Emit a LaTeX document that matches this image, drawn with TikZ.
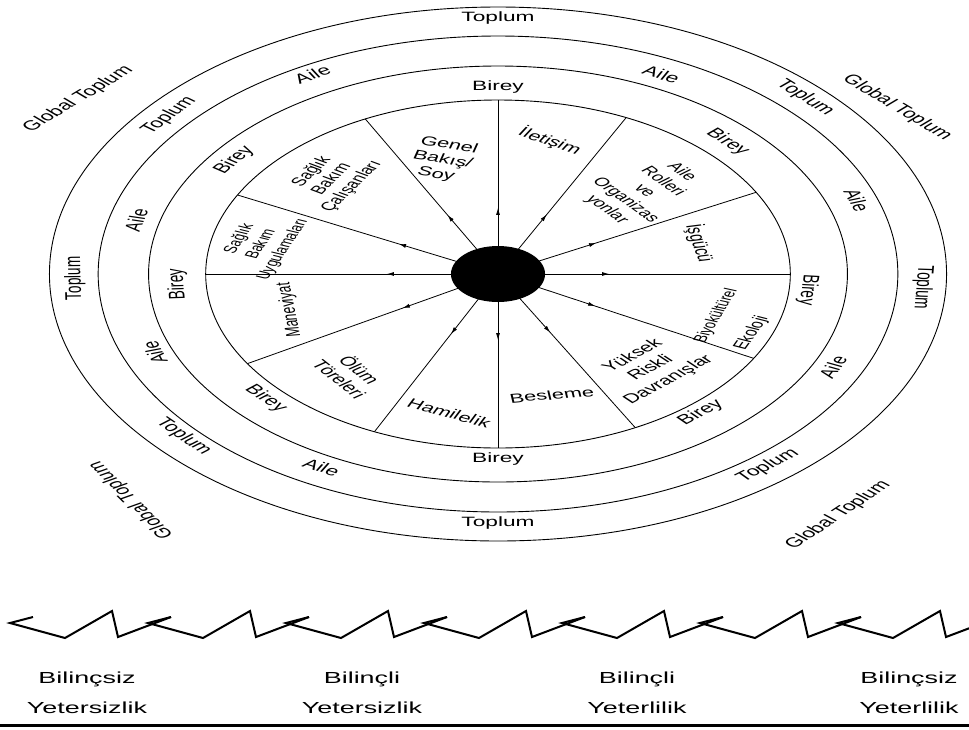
\documentclass[tikz,border=0pt]{standalone}
\usepackage{fontspec}
\setmainfont{Liberation Sans}
\usetikzlibrary{decorations.markings,arrows.meta}

\begin{document}
\begin{tikzpicture}[x=1pt,y=1pt,
  ring/.style={draw=black,line width=0.9pt},
  spoke/.style={draw=black,line width=0.8pt,postaction={decorate},
    decoration={markings,mark=at position 0.38 with {\arrow{Latex[length=7pt,width=4pt]}}}},
  lvl/.style={font=\fontsize{13.5}{14}\selectfont,inner sep=1pt},
  dom/.style={font=\fontsize{13}{15}\selectfont,align=center,inner sep=1pt},
  stage/.style={font=\fontsize{16}{30}\selectfont,align=center,xscale=1.68},
  zig/.style={draw=black,line width=2pt,line join=miter}]
  \useasboundingbox (0,0) rectangle (969,-729);
  \begin{scope}[shift={(498,-274)},xscale=1.68,transform shape]
    % halkalar
    \draw[ring] (0,0) circle (174);
    \draw[ring] (0,0) circle (208);
    \draw[ring] (0,0) circle (238);
    \draw[ring] (0,0) circle (267);
    % merkez ve oklar
    \coordinate (c) at (0,0);
    \foreach \a in {0,28,64,90,117,153,180,211,245,270,298,331}
      \draw[spoke] (c) -- (\a:174);
    \node[circle,fill=black,minimum size=56pt,inner sep=0pt] (hub) at (c) {};
    % Birey
    \node[lvl] (bireyN) at (90:187) {Birey};
    \node[lvl] (bireyS) at (270:185) {Birey};
    \node[lvl,rotate=93] (bireyW) at (183:191) {Birey};
    \node[lvl,rotate=-95] (bireyE) at (-5:185) {Birey};
    \node[lvl,rotate=54] (bireyNW) at (144:194) {Birey};
    \node[lvl,rotate=-46] (bireyNE) at (44:190) {Birey};
    \node[lvl,rotate=-48] (bireySW) at (222:186) {Birey};
    \node[lvl,rotate=41] (bireySE) at (-49:184) {Birey};
    % Aile
    \node[lvl,rotate=29] (aileNW) at (119:228) {Aile};
    \node[lvl,rotate=-26] (aileNE) at (64:222) {Aile};
    \node[lvl,rotate=76] (aileW) at (166:222) {Aile};
    \node[lvl,rotate=108] (aileWS) at (201:219) {Aile};
    \node[lvl,rotate=-71] (aileE) at (19:226) {Aile};
    \node[lvl,rotate=65] (aileES) at (-25:220) {Aile};
    \node[lvl,rotate=-28] (aileSW) at (241.5:220) {Aile};
    % Toplum
    \node[lvl] (toplumN) at (90:256) {Toplum};
    \node[lvl] (toplumS) at (270:249) {Toplum};
    \node[lvl,rotate=51] (toplumNW) at (141:252) {Toplum};
    \node[lvl,rotate=-46] (toplumNE) at (44:254) {Toplum};
    \node[lvl,rotate=91] (toplumW) at (181:252) {Toplum};
    \node[lvl,rotate=-93] (toplumE) at (-3:253) {Toplum};
    \node[lvl,rotate=-49] (toplumSW) at (221:248) {Toplum};
    \node[lvl,rotate=40] (toplumSE) at (-50:250) {Toplum};
    % Global Toplum
    \node[lvl,rotate=45] (globalNW) at (145:305) {Global Toplum};
    \node[lvl,rotate=-45] (globalNE) at (35:290) {Global Toplum};
    \node[lvl,rotate=121] (globalSW) at (226:314) {Global Toplum};
    \node[lvl,rotate=48] (globalSE) at (-50:315) {Global Toplum};
    % alanlar
    \node[dom,rotate=-15] (genel) at (-33,114) {Genel\\Bakış/\\Soy};
    \node[dom,rotate=-29] (iletisim) at (31,133) {İletişim};
    \node[dom,rotate=-50,font=\fontsize{12}{14.5}\selectfont] (aileRol) at (87,83) {Aile\\Rolleri\\ve\\Organizas\\yonlar};
    \node[dom,rotate=-78] (isgucu) at (120,31) {İşgücü};
    \node[dom,rotate=70,font=\fontsize{11}{13}\selectfont] (biyo) at (130,-42) {Biyokültürel};
    \node[dom,rotate=67,font=\fontsize{12}{14}\selectfont] (ekoloji) at (151,-59) {Ekoloji};
    \node[dom,rotate=42,font=\fontsize{13}{16}\selectfont] (riskli) at (91,-94) {Yüksek\\Riskli\\Davranışlar};
    \node[dom,rotate=8] (besleme) at (32,-121) {Besleme};
    \node[dom,rotate=-24] (hamile) at (-29,-139) {Hamilelik};
    \node[dom,rotate=-53] (olum) at (-88,-100) {Ölüm\\Töreleri};
    \node[dom,rotate=97,font=\fontsize{12}{14}\selectfont] (maneviyat) at (-124,-36) {Maneviyat};
    \node[dom,rotate=68,font=\fontsize{11}{14}\selectfont] (uygulama) at (-141,30) {Sağlık\\Bakım\\Uygulamaları};
    \node[dom,rotate=58,font=\fontsize{12}{14}\selectfont] (calisan) at (-99,95) {Sağlık\\Bakım\\Çalışanları};
  \end{scope}
  % zikzak
  \foreach \d in {0,138,...,828}
    \draw[zig] (\d+33,-617) -- (\d+10,-623) -- (\d+65,-638) -- (\d+112,-611)
      -- (\d+118,-637) -- (\d+171,-617);
  \node[stage] (bilY) at (87,-693) {Bilinçsiz\\Yetersizlik};
  \node[stage] (billiY) at (362,-693) {Bilinçli\\Yetersizlik};
  \node[stage] (bilYl) at (637,-693) {Bilinçli\\Yeterlilik};
  \node[stage] (bilsizYl) at (909,-693) {Bilinçsiz\\Yeterlilik};
  \draw[line width=3pt] (0,-725.5) -- (969,-725.5);
\end{tikzpicture}
\end{document}
